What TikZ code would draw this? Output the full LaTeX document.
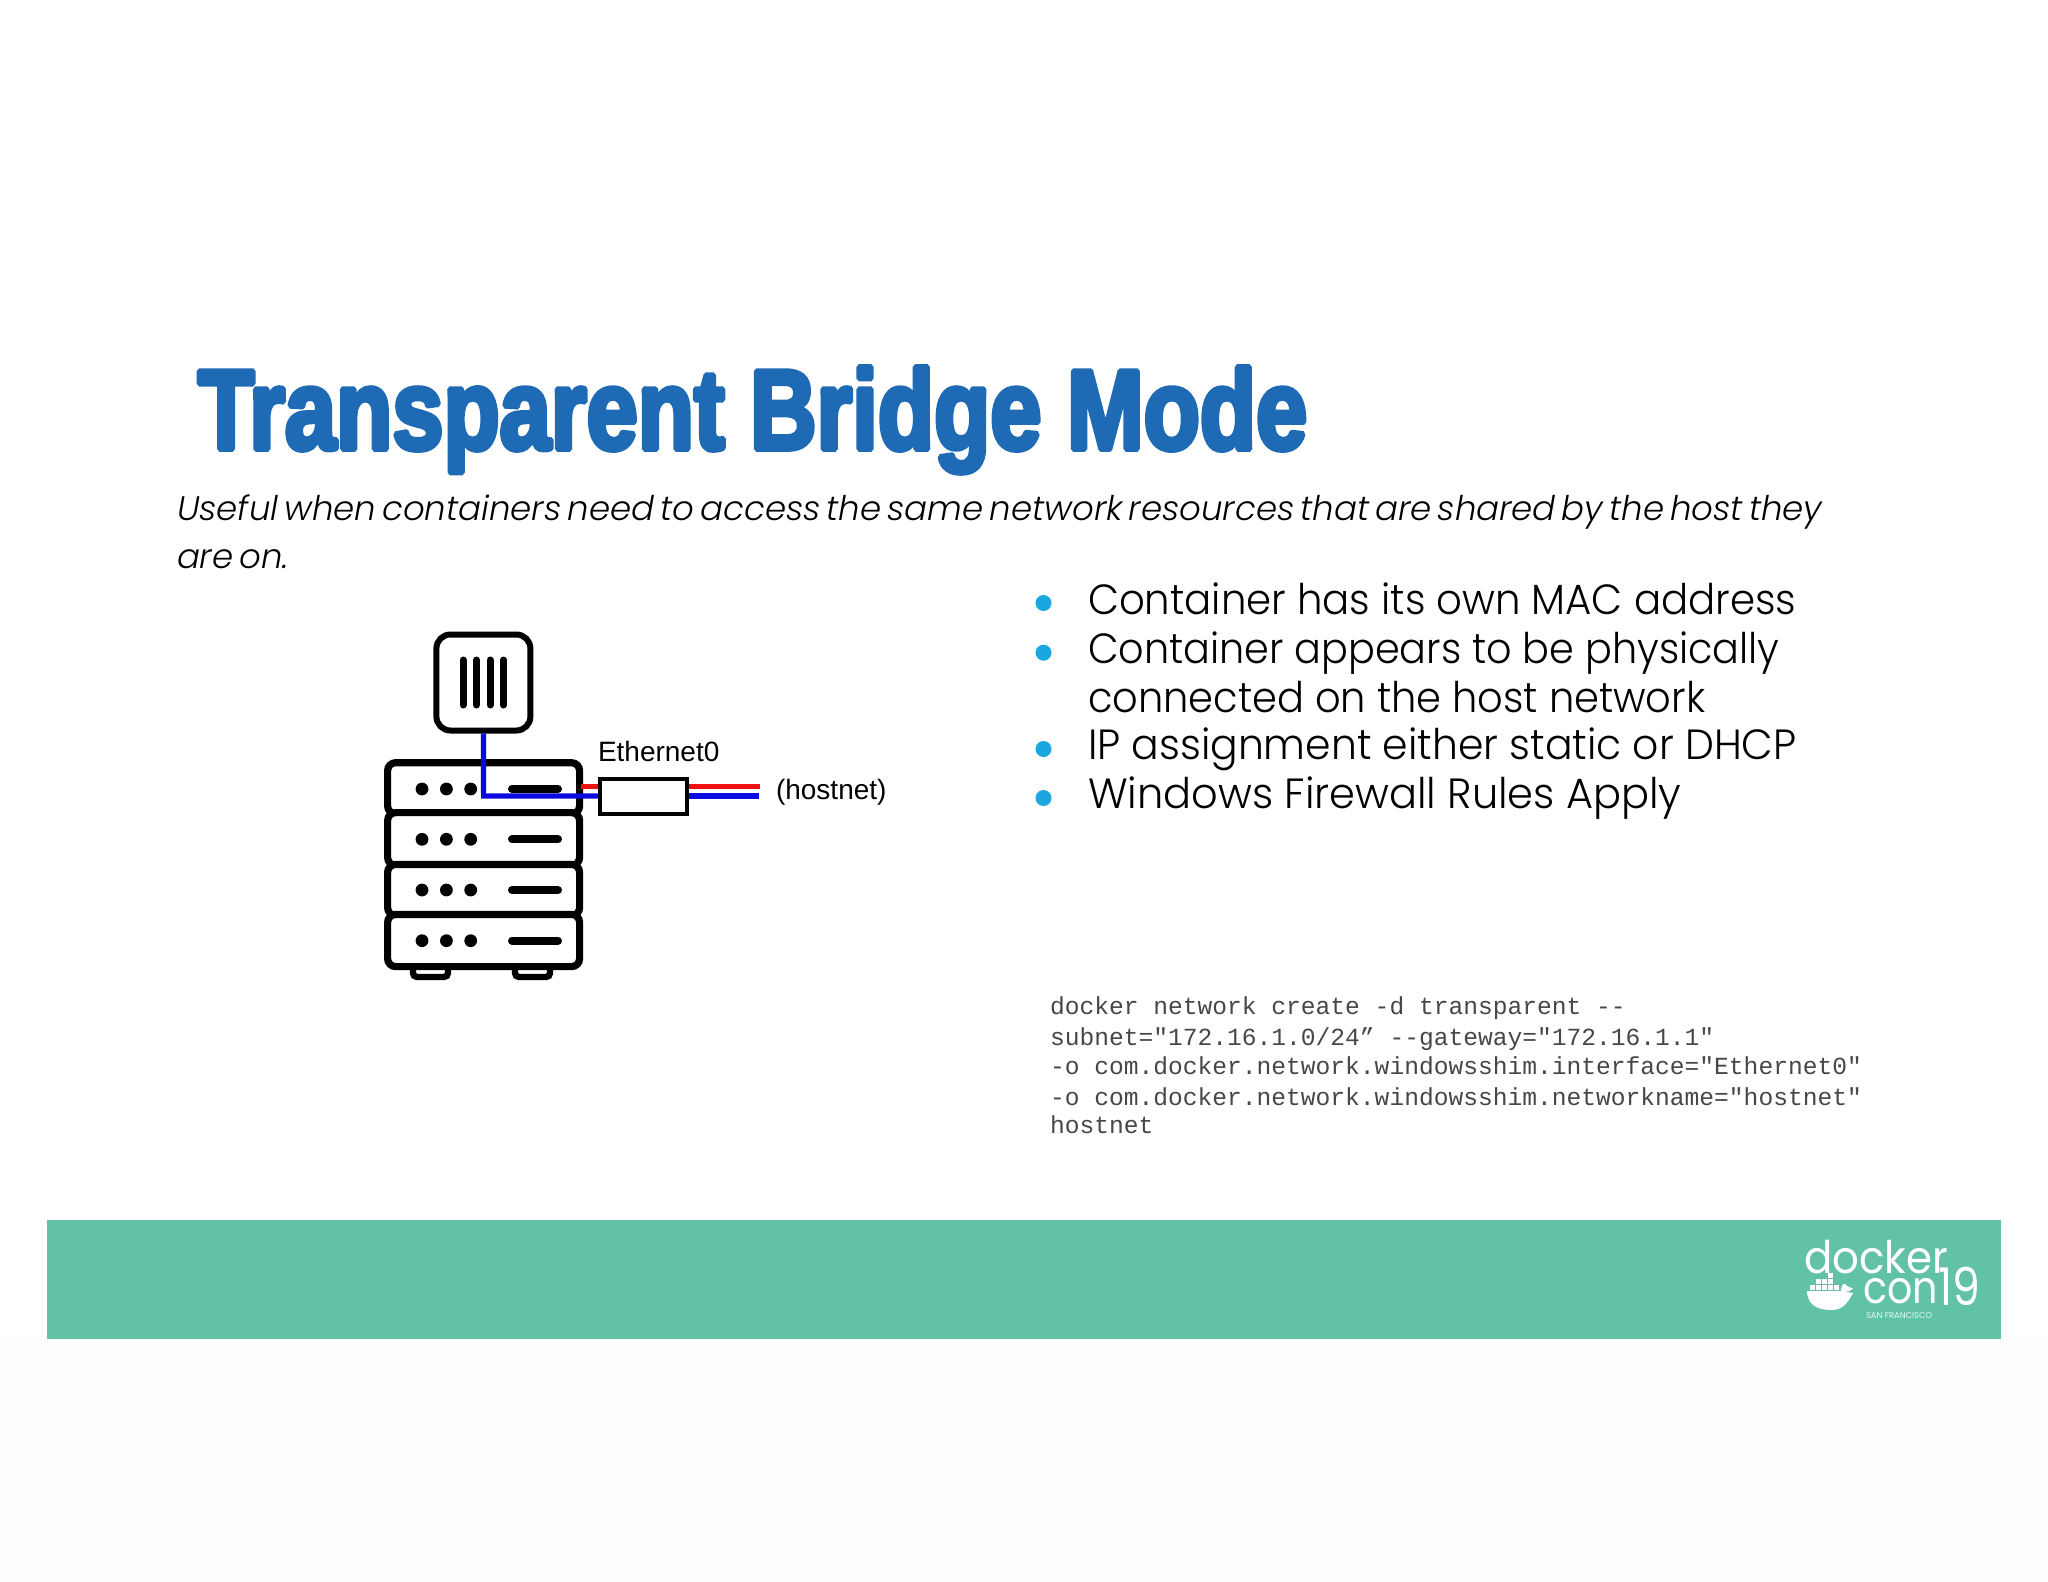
\documentclass[tikz,border=0pt]{standalone}
\usepackage{fontspec}
\setmainfont{Liberation Sans}
\newfontfamily\titlefont[FakeBold=5]{Liberation Sans Bold}
\newfontfamily\bodyfont{Poppins Light}
\newfontfamily\subfont[WordSpace=0.6]{Poppins Light Italic}
\newfontfamily\codefont{Liberation Mono}
\newfontfamily\logofont{Poppins}
\definecolor{banner}{HTML}{62C2A8}
\definecolor{titleblue}{HTML}{1F6AB5}
\definecolor{bulletblue}{HTML}{1BA6E2}
\definecolor{pageback}{HTML}{FDFDFD}
\definecolor{wireblue}{HTML}{0A0AE0}
\definecolor{wirered}{HTML}{F01010}
\tikzset{
  px/.style={x=0.5pt,y=-0.5pt},
  txt/.style={inner sep=0pt,outer sep=0pt,anchor=base west,align=left},
  subtxt/.style={txt,font=\subfont\fontsize{17}{17}\selectfont},
  bodytxt/.style={txt,font=\bodyfont\fontsize{20.5}{20.5}\selectfont},
  codetxt/.style={txt,font=\codefont\fontsize{12.3}{12.3}\selectfont,text=black!72},
  labeltxt/.style={txt,font=\fontsize{14}{14}\selectfont},
  logotxt/.style={txt,text=white,font=\logofont},
  unit/.style={draw=black,line width=3.6pt,rounded corners=4pt,fill=white},
  barline/.style={draw=black,line width=3.5pt,line cap=round},
  hdash/.style={draw=black,line width=4pt,line cap=round},
  wire/.style={line width=2.6pt},
  bulletdot/.style={circle,fill=bulletblue,inner sep=0pt,minimum size=8pt},
}
\begin{document}
\begin{tikzpicture}[px]
\useasboundingbox (0,0) rectangle (2048,1582);
\fill[white] (0,0) rectangle (2048,1582);
\fill[pageback] (0,1339) rectangle (2048,1582);
% title
\begin{scope}[miter limit=1,line join=bevel]
\node[txt,text=titleblue] (title) at (198,449) {\titlefont\fontsize{46}{46}\selectfont\scalebox{1.0}[1.23]{Transparent Bridge Mode}};
\end{scope}
% subtitle
\node[subtxt] (sub1) at (177,521) {Useful when containers need to access the same network resources that are shared by the host they};
\node[subtxt] (sub2) at (177,568) {are on.};
% feet
\draw[black,line width=3.2pt,rounded corners=2pt,fill=white] (413,960) -- (413,977) -- (448,977) -- (448,960);
\draw[black,line width=3.2pt,rounded corners=2pt,fill=white] (515,960) -- (515,977) -- (550,977) -- (550,960);
% server
\node[unit,minimum width=96pt,minimum height=25.6pt] (u1) at (483.6,788.3) {};
\node[unit,minimum width=96pt,minimum height=26.4pt] (u2) at (483.6,839) {};
\node[unit,minimum width=96pt,minimum height=25.6pt] (u3) at (483.6,890) {};
\node[unit,minimum width=96pt,minimum height=26.1pt] (u4) at (483.6,940.5) {};
\foreach \y in {789,839.3,890,940.7}{
  \fill (422,\y) circle (3.2pt) (446.4,\y) circle (3.2pt) (470.7,\y) circle (3.2pt);
  \draw[hdash] (512,\y) -- (558,\y);
}
% container
\node[draw=black,line width=3pt,rounded corners=7pt,fill=white,minimum width=47pt,minimum height=48pt] (ctr) at (483.4,682.5) {};
\foreach \x in {463,476.5,490,503.5}{\draw[barline] (\x,660) -- (\x,705);}
% ethernet box
\node[draw=black,line width=2pt,fill=white,minimum width=43.4pt,minimum height=17.5pt,inner sep=0pt] (eth) at (643.5,796.5) {};
% wires
\coordinate (rl) at (581,786.3);
\coordinate (rr) at (760,786.3);
\coordinate (bl) at (483.6,796);
\coordinate (br) at (759,796);
\draw[wirered,wire] (rl) -- (rl -| eth.west);
\draw[wirered,wire] (rr -| eth.east) -- (rr);
\draw[wireblue,wire] (ctr.south) -- (bl) -- (bl -| eth.west);
\draw[wireblue,wire] (br -| eth.east) -- (br);
\node[labeltxt] (lbl1) at (598,761.5) {Ethernet0};
\node[labeltxt] (lbl2) at (776,799) {(hostnet)};
% bullets
\node[bulletdot] (d1) at (1043.5,603) {};
\node[bulletdot] (d2) at (1043.5,652.7) {};
\node[bulletdot] (d3) at (1043.5,749) {};
\node[bulletdot] (d4) at (1043.5,798) {};
\node[bodytxt] (b1) at (1088,614) {\scalebox{0.982}[1.03]{Container has its own MAC address}};
\node[bodytxt] (b2) at (1088,663) {\scalebox{0.97}[1.03]{Container appears to be physically}};
\node[bodytxt] (b3) at (1088,712) {\scalebox{0.975}[1.03]{connected on the host network}};
\node[bodytxt] (b4) at (1088,759) {\scalebox{0.998}[1.03]{IP assignment either static or DHCP}};
\node[bodytxt] (b5) at (1088,808) {\scalebox{1.013}[1.03]{Windows Firewall Rules Apply}};
% code
\node[codetxt] (c1) at (1050,1014) {docker network create -d transparent --};
\node[codetxt] (c2) at (1050,1045) {subnet="172.16.1.0/24” --gateway="172.16.1.1"};
\node[codetxt] (c3) at (1050,1074) {-o com.docker.network.windowsshim.interface="Ethernet0"};
\node[codetxt] (c4) at (1050,1105) {-o com.docker.network.windowsshim.networkname="hostnet"};
\node[codetxt] (c5) at (1050,1133) {hostnet};
% banner
\fill[banner] (46.5,1220) rectangle (2001,1338.7);
% logo
\node[logotxt,font=\logofont\fontsize{22.5}{22.5}\selectfont] (l1) at (1804,1273) {\scalebox{0.93}[1]{docker}};
\node[logotxt,font=\logofont\fontsize{22.5}{22.5}\selectfont] (l2) at (1863,1303) {\scalebox{0.88}[1]{con}};
\node[logotxt,font=\logofont\fontsize{26}{26}\selectfont] (l3) at (1938,1305) {\scalebox{0.85}[1]{19}};
\node[logotxt,font=\logofont\fontsize{4.2}{4.2}\selectfont,text=white!85!banner] (l4) at (1866,1318.5) {SAN FRANCISCO};
% whale
\fill[white] (1807,1292) .. controls (1808,1308) and (1822,1310) .. (1832,1310)
  .. controls (1845,1310) and (1850,1298) .. (1853,1293)
  .. controls (1848,1292) and (1846,1292) .. (1843,1291)
  -- (1807,1291) -- cycle;
\fill[white] (1841,1290) .. controls (1842,1284) and (1843,1283) .. (1845,1284) .. controls (1847,1286) and (1849,1288) .. (1853,1288) .. controls (1851,1291) and (1848,1292) .. (1841,1292) -- cycle;
\foreach \cx/\cy in {1810/1285,1816/1285,1822/1285,1828/1285,1834/1285,1816/1279,1822/1279,1828/1279,1828/1273}{
  \fill[white] (\cx,\cy) rectangle ++(4.6,4.6);
}
\end{tikzpicture}
\end{document}
